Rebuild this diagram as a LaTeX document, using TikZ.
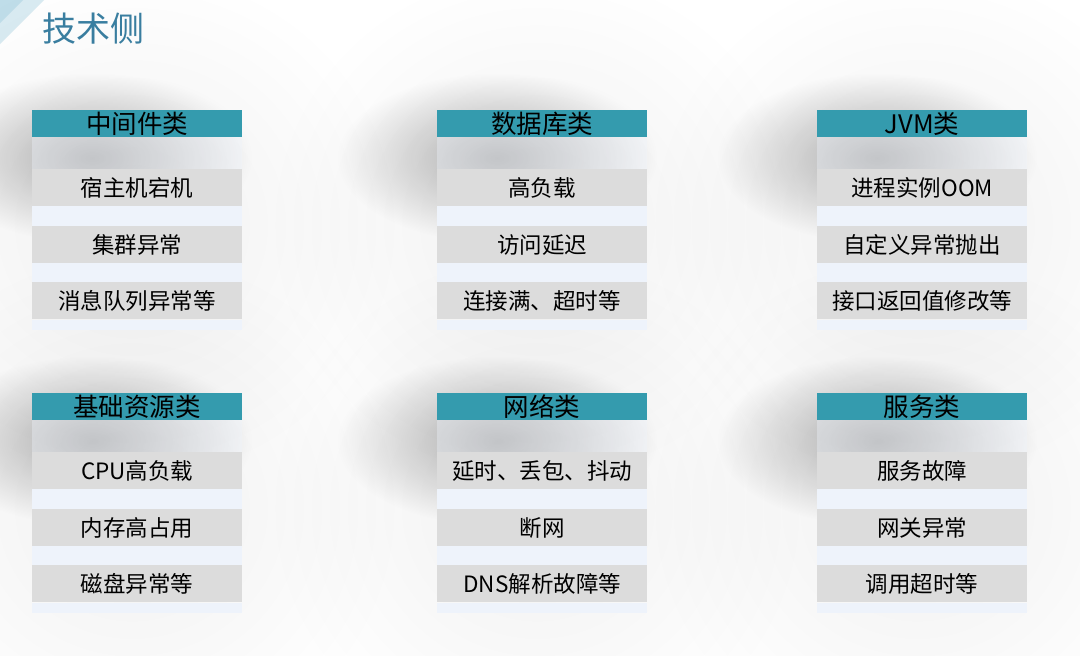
\documentclass[tikz,border=0pt]{standalone}
\usepackage{fontspec}
\setmainfont{Noto Sans CJK SC}
\usetikzlibrary{fadings}
\tikzfading[name=softfade, inner color=transparent!0, outer color=transparent!100]
\definecolor{hdrc}{HTML}{349BAE}
\definecolor{greyc}{HTML}{DCDCDC}
\definecolor{lightc}{HTML}{EEF3FB}
\definecolor{titlec}{HTML}{3A80A2}
\definecolor{cornerA}{HTML}{BFDDE9}
\definecolor{cornerB}{HTML}{D9EBF2}
\tikzset{
  rowbase/.style={anchor=north west, inner sep=0pt, minimum width=210pt, text=black, font=\fontsize{22.5}{24}\selectfont},
  hdrrow/.style={rowbase, fill=hdrc, minimum height=26.5pt, font=\fontsize{25.5}{27}\selectfont},
  greyrow/.style={rowbase, fill=greyc, minimum height=37pt},
  lightrow/.style={rowbase, fill=lightc},
  shadedrow/.style={rowbase, fill=lightc, fill opacity=0.38},
  shadowbig/.style={fill=black, opacity=0.06, path fading=softfade},
  shadowcore/.style={fill=black, opacity=0.30, path fading=softfade},
}
\newcommand{\shadowat}[2]{%
  \fill[shadowbig] (#1+100,#2+115) ellipse (270pt and 260pt);
  \fill[shadowcore] (#1+60,#2+48) ellipse (160pt and 85pt);
}
\newcommand{\mktable}[7]{%
  \node[hdrrow] (#3h) at (#1,#2) {#4};
  \node[shadedrow, minimum height=32.5pt] (#3l1) at (#1,#2+26.5) {};
  \node[greyrow] (#3r1) at (#1,#2+59) {#5};
  \node[lightrow, minimum height=20pt] (#3l2) at (#1,#2+96) {};
  \node[greyrow] (#3r2) at (#1,#2+116) {#6};
  \node[lightrow, minimum height=19pt] (#3l3) at (#1,#2+153) {};
  \node[greyrow] (#3r3) at (#1,#2+172) {#7};
  \node[lightrow, minimum height=10pt] (#3l4) at (#1,#2+209.5) {};
}
\begin{document}
\begin{tikzpicture}[x=1pt,y=-1pt]
\useasboundingbox[fill=white] (0,0) rectangle (1080,656);
% corner decoration
\fill[cornerB] (0,0) -- (44,0) -- (0,44) -- cycle;
\fill[cornerA] (0,0) -- (23,0) -- (0,23) -- cycle;
% title
\node[anchor=west, inner sep=0pt, text=titlec, font=\fontsize{34}{36}\selectfont] (title) at (42,29) {技术侧};
% shadows
\shadowat{32}{110}
\shadowat{437}{110}
\shadowat{817}{110}
\shadowat{32}{393}
\shadowat{437}{393}
\shadowat{817}{393}
% tables
\mktable{32}{110}{a}{中间件类}{宿主机宕机}{集群异常}{消息队列异常等}
\mktable{437}{110}{b}{数据库类}{高负载}{访问延迟}{连接满、超时等}
\mktable{817}{110}{c}{JVM类}{进程实例OOM}{自定义异常抛出}{接口返回值修改等}
\mktable{32}{393}{d}{基础资源类}{CPU高负载}{内存高占用}{磁盘异常等}
\mktable{437}{393}{e}{网络类}{延时、丢包、抖动}{断网}{DNS解析故障等}
\mktable{817}{393}{f}{服务类}{服务故障}{网关异常}{调用超时等}
\end{tikzpicture}
\end{document}
